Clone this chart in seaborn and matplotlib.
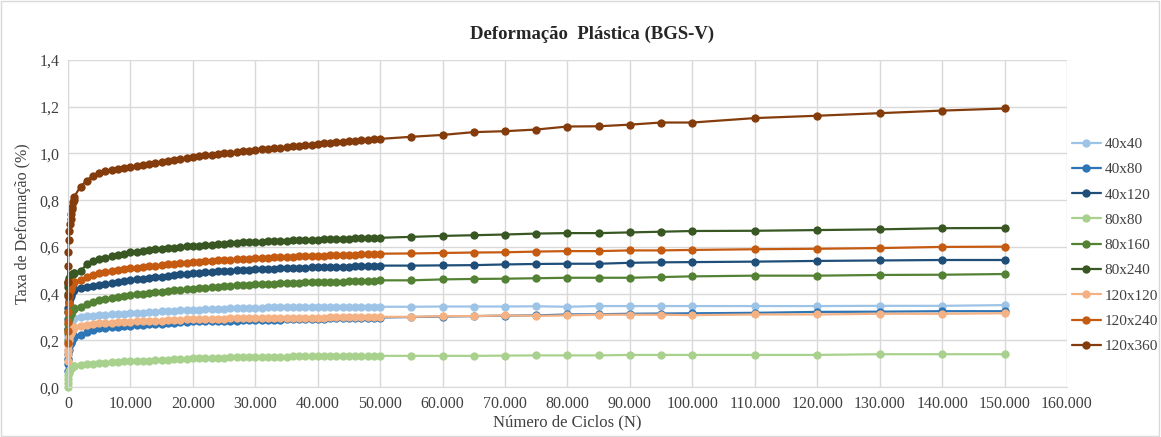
import pandas as pd
import matplotlib
matplotlib.use("Agg")
import matplotlib.pyplot as plt
import seaborn as sns
from matplotlib.ticker import FuncFormatter, MultipleLocator
from matplotlib.patches import Rectangle

# numero de ciclos (N) - mesmo para todas as series
ciclos = [1, 10, 20, 50, 100, 200, 300, 400, 500, 600, 700, 800, 900, 1000,
          2000, 3000, 4000, 5000, 6000, 7000, 8000, 9000, 10000,
          11000, 12000, 13000, 14000, 15000, 16000, 17000, 18000, 19000, 20000,
          21000, 22000, 23000, 24000, 25000, 26000, 27000, 28000, 29000, 30000,
          31000, 32000, 33000, 34000, 35000, 36000, 37000, 38000, 39000, 40000,
          41000, 42000, 43000, 44000, 45000, 46000, 47000, 48000, 49000, 50000,
          55000, 60000, 65000, 70000, 75000, 80000, 85000, 90000, 95000, 100000,
          110000, 120000, 130000, 140000, 150000]

s40x40 = [0.12, 0.16, 0.19, 0.22, 0.24, 0.26, 0.27, 0.275, 0.28, 0.285, 0.29, 0.293, 0.296, 0.298,
          0.301, 0.303, 0.306, 0.308, 0.310, 0.311, 0.313, 0.315, 0.316,
          0.318, 0.319, 0.321, 0.322, 0.324, 0.325, 0.326, 0.328, 0.329, 0.331,
          0.332, 0.333, 0.334, 0.335, 0.336, 0.337, 0.337, 0.338, 0.339, 0.340,
          0.340, 0.341, 0.341, 0.342, 0.342, 0.342, 0.343, 0.343, 0.343, 0.343,
          0.343, 0.344, 0.344, 0.344, 0.344, 0.344, 0.344, 0.344, 0.344, 0.344,
          0.344, 0.345, 0.345, 0.345, 0.346, 0.344, 0.347, 0.347, 0.347, 0.347,
          0.347, 0.347, 0.348, 0.348, 0.351]
s40x80 = [0.07, 0.10, 0.12, 0.14, 0.16, 0.175, 0.185, 0.19, 0.195, 0.20, 0.205, 0.21, 0.215, 0.218,
          0.223, 0.236, 0.245, 0.251, 0.254, 0.256, 0.258, 0.261, 0.263,
          0.265, 0.267, 0.269, 0.271, 0.272, 0.274, 0.276, 0.277, 0.279, 0.281,
          0.281, 0.282, 0.283, 0.283, 0.284, 0.285, 0.285, 0.286, 0.286, 0.287,
          0.288, 0.288, 0.289, 0.289, 0.290, 0.291, 0.291, 0.292, 0.292, 0.293,
          0.293, 0.294, 0.294, 0.295, 0.295, 0.296, 0.296, 0.297, 0.297, 0.298,
          0.300, 0.302, 0.304, 0.306, 0.307, 0.311, 0.312, 0.314, 0.315, 0.316,
          0.318, 0.322, 0.323, 0.325, 0.325]
s40x120 = [0.25, 0.29, 0.32, 0.34, 0.36, 0.37, 0.38, 0.39, 0.40, 0.405, 0.41, 0.413, 0.416, 0.418,
           0.423, 0.430, 0.434, 0.438, 0.443, 0.447, 0.451, 0.455, 0.458,
           0.461, 0.464, 0.467, 0.470, 0.473, 0.476, 0.479, 0.482, 0.485, 0.487,
           0.489, 0.491, 0.493, 0.495, 0.497, 0.499, 0.500, 0.502, 0.503, 0.504,
           0.505, 0.506, 0.507, 0.508, 0.509, 0.510, 0.511, 0.511, 0.512, 0.512,
           0.513, 0.514, 0.515, 0.515, 0.516, 0.517, 0.518, 0.518, 0.519, 0.520,
           0.520, 0.521, 0.522, 0.525, 0.527, 0.528, 0.528, 0.532, 0.534, 0.535,
           0.537, 0.540, 0.542, 0.544, 0.544]
s80x80 = [0.0, 0.02, 0.035, 0.05, 0.06, 0.07, 0.075, 0.08, 0.083, 0.085, 0.087, 0.089, 0.091, 0.092,
          0.094, 0.098, 0.101, 0.104, 0.105, 0.107, 0.108, 0.110, 0.111,
          0.112, 0.113, 0.114, 0.115, 0.116, 0.118, 0.119, 0.120, 0.122, 0.123,
          0.123, 0.124, 0.125, 0.125, 0.126, 0.127, 0.128, 0.128, 0.129, 0.130,
          0.130, 0.130, 0.131, 0.131, 0.131, 0.132, 0.132, 0.132, 0.133, 0.133,
          0.133, 0.133, 0.133, 0.134, 0.134, 0.134, 0.134, 0.134, 0.134, 0.134,
          0.134, 0.134, 0.134, 0.135, 0.136, 0.136, 0.136, 0.138, 0.138, 0.138,
          0.138, 0.138, 0.141, 0.141, 0.141]
s80x160 = [0.20, 0.23, 0.25, 0.27, 0.29, 0.30, 0.31, 0.315, 0.32, 0.325, 0.33, 0.333, 0.336, 0.338,
           0.341, 0.355, 0.365, 0.373, 0.378, 0.382, 0.386, 0.390, 0.394,
           0.397, 0.400, 0.403, 0.406, 0.409, 0.411, 0.414, 0.416, 0.419, 0.421,
           0.423, 0.425, 0.427, 0.429, 0.431, 0.433, 0.435, 0.437, 0.438, 0.440,
           0.441, 0.442, 0.443, 0.444, 0.445, 0.446, 0.447, 0.448, 0.448, 0.449,
           0.450, 0.451, 0.452, 0.452, 0.453, 0.454, 0.455, 0.455, 0.456, 0.457,
           0.457, 0.461, 0.463, 0.464, 0.466, 0.468, 0.468, 0.468, 0.471, 0.474,
           0.477, 0.477, 0.480, 0.481, 0.484]
s80x240 = [0.40, 0.43, 0.44, 0.45, 0.46, 0.465, 0.47, 0.475, 0.478, 0.48, 0.482, 0.485, 0.487, 0.49,
           0.497, 0.525, 0.540, 0.548, 0.554, 0.559, 0.565, 0.571, 0.577,
           0.580, 0.583, 0.586, 0.589, 0.592, 0.594, 0.597, 0.599, 0.602, 0.604,
           0.606, 0.608, 0.610, 0.611, 0.613, 0.615, 0.617, 0.619, 0.620, 0.622,
           0.623, 0.624, 0.625, 0.626, 0.627, 0.628, 0.629, 0.630, 0.630, 0.631,
           0.632, 0.633, 0.634, 0.634, 0.635, 0.636, 0.637, 0.637, 0.638, 0.639,
           0.643, 0.647, 0.650, 0.653, 0.657, 0.659, 0.659, 0.662, 0.665, 0.668,
           0.669, 0.672, 0.675, 0.680, 0.681]
s120x120 = [0.11, 0.14, 0.16, 0.18, 0.20, 0.215, 0.225, 0.23, 0.235, 0.24, 0.245, 0.25, 0.253, 0.256,
            0.261, 0.265, 0.270, 0.273, 0.274, 0.276, 0.277, 0.279, 0.280,
            0.281, 0.282, 0.283, 0.284, 0.285, 0.287, 0.288, 0.289, 0.290, 0.291,
            0.291, 0.292, 0.292, 0.293, 0.293, 0.294, 0.294, 0.294, 0.295, 0.295,
            0.295, 0.296, 0.296, 0.296, 0.297, 0.297, 0.297, 0.297, 0.298, 0.298,
            0.298, 0.299, 0.299, 0.299, 0.299, 0.300, 0.300, 0.300, 0.301, 0.301,
            0.301, 0.304, 0.304, 0.307, 0.305, 0.307, 0.310, 0.310, 0.310, 0.308,
            0.311, 0.311, 0.314, 0.314, 0.316]
s120x240 = [0.19, 0.24, 0.28, 0.32, 0.36, 0.39, 0.41, 0.42, 0.43, 0.435, 0.44, 0.445, 0.45, 0.452,
            0.458, 0.472, 0.480, 0.487, 0.492, 0.496, 0.500, 0.504, 0.508,
            0.511, 0.514, 0.517, 0.520, 0.523, 0.525, 0.528, 0.530, 0.533, 0.535,
            0.537, 0.539, 0.541, 0.542, 0.544, 0.545, 0.547, 0.549, 0.550, 0.552,
            0.553, 0.554, 0.555, 0.556, 0.557, 0.558, 0.559, 0.560, 0.561, 0.562,
            0.563, 0.564, 0.565, 0.565, 0.566, 0.567, 0.568, 0.569, 0.570, 0.571,
            0.572, 0.574, 0.576, 0.577, 0.580, 0.582, 0.582, 0.585, 0.585, 0.587,
            0.590, 0.592, 0.595, 0.600, 0.601]
s120x360 = [0.39, 0.45, 0.52, 0.58, 0.63, 0.67, 0.70, 0.72, 0.74, 0.76, 0.77, 0.79, 0.80, 0.815,
            0.858, 0.884, 0.905, 0.918, 0.924, 0.929, 0.934, 0.938, 0.943,
            0.947, 0.952, 0.956, 0.960, 0.964, 0.969, 0.973, 0.977, 0.982, 0.986,
            0.989, 0.992, 0.995, 0.998, 1.001, 1.003, 1.006, 1.009, 1.012, 1.015,
            1.018, 1.020, 1.023, 1.025, 1.028, 1.031, 1.033, 1.036, 1.038, 1.041,
            1.043, 1.045, 1.047, 1.050, 1.052, 1.054, 1.056, 1.058, 1.060, 1.062,
            1.071, 1.079, 1.091, 1.095, 1.102, 1.115, 1.116, 1.123, 1.132, 1.132,
            1.151, 1.161, 1.172, 1.183, 1.192]

series = ['40x40', '40x80', '40x120', '80x80', '80x160', '80x240', '120x120', '120x240', '120x360']
valores = [s40x40, s40x80, s40x120, s80x80, s80x160, s80x240, s120x120, s120x240, s120x360]
cores = ['#9DC3E6', '#2E75B6', '#1F4E79', '#A9D18E', '#548235', '#385723',
         '#F4B183', '#C55A11', '#843C0C']

frames = []
for nome, v in zip(series, valores):
    frames.append(pd.DataFrame({'Ciclos': ciclos, 'Taxa': v, 'Serie': nome}))
df = pd.concat(frames, ignore_index=True)

sns.set_style('white')
plt.rcParams['font.family'] = ['Liberation Serif', 'DejaVu Serif']

fig, ax = plt.subplots(figsize=(11.61, 4.37), dpi=100)
fig.subplots_adjust(left=0.0586, right=0.919, top=0.863, bottom=0.114)

sns.lineplot(data=df, x='Ciclos', y='Taxa', hue='Serie', hue_order=series,
             palette=dict(zip(series, cores)), marker='o', markersize=6,
             markeredgewidth=0, linewidth=1.6, errorbar=None, ax=ax)
for ln in ax.lines:
    ln.set_clip_on(False)

ax.set_xlim(0, 160000)
ax.set_ylim(0, 1.4)
ax.xaxis.set_major_locator(MultipleLocator(10000))
ax.yaxis.set_major_locator(MultipleLocator(0.2))
ax.xaxis.set_major_formatter(FuncFormatter(lambda v, p: f'{int(v):,}'.replace(',', '.')))
ax.yaxis.set_major_formatter(FuncFormatter(lambda v, p: f'{v:.1f}'.replace('.', ',')))
ax.grid(True, color='#D9D9D9', linewidth=1)
ax.set_axisbelow(True)
for s in ['top', 'right']:
    ax.spines[s].set_visible(False)
for s in ['left', 'bottom']:
    ax.spines[s].set_color('#D9D9D9')
ax.tick_params(labelsize=11.5, colors='#404040', length=0, pad=6)

# titulo centrado na figura, nao no eixo (como no Excel)
ax.set_title('Deformação  Plástica (BGS-V)', fontsize=13.5, fontweight='bold', pad=15, x=0.5245)
ax.set_xlabel('Número de Ciclos (N)', fontsize=12, color='#404040', labelpad=2)
ax.set_ylabel('Taxa de Deformação (%)', fontsize=11.5, color='#404040', labelpad=6)

h, l = ax.get_legend_handles_labels()
ax.legend(h, l, loc='upper left', bbox_to_anchor=(0.923, 0.686),
          bbox_transform=fig.transFigure, frameon=False, fontsize=11,
          labelspacing=0.76, handlelength=1.9, handletextpad=0.25, borderpad=0,
          borderaxespad=0, labelcolor='#404040')

fig.patches.append(Rectangle((0.001, 0.002), 0.997, 0.995, transform=fig.transFigure,
                             fill=False, edgecolor='#D9D9D9', linewidth=1))

fig.savefig('out.png', dpi=100)
